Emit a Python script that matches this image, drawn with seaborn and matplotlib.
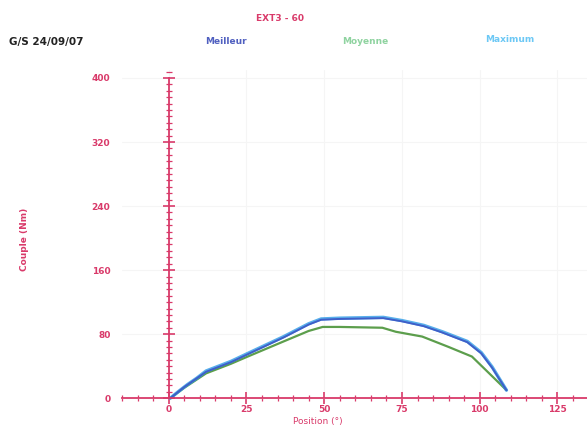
import matplotlib
matplotlib.use("Agg")
import matplotlib.pyplot as plt
import seaborn as sns
import pandas as pd
from matplotlib.ticker import MultipleLocator

# ---- data ----
pos_meilleur = [0.5, 5, 12, 20, 26, 37, 45, 49, 55, 62, 69, 75, 82, 88, 96, 100.5, 104, 108.6]
couple_meilleur = [0, 14, 33, 45, 56, 76, 92, 98, 99, 99.5, 100, 96, 90, 82, 70, 56, 38, 10]

pos_moyenne = [0.5, 5, 12, 20, 26, 37, 45, 49.5, 55, 62, 68.7, 73, 81.5, 90, 97.5, 102, 108.6]
couple_moyenne = [0, 13, 31, 43, 53, 71, 84, 89, 89, 88.5, 88, 83, 77, 64, 52, 35, 10]

pos_maximum = [0.5, 3, 6, 9, 12, 20, 26, 37, 45, 49, 55, 62, 69, 75, 82, 88, 96, 100.5, 104, 108.6]
couple_maximum = [0, 8, 17, 25, 34, 46, 57, 77, 93, 99, 100, 100.5, 101, 97, 91, 83, 71, 57, 39, 10]

y_ticks = [0, 80, 160, 240, 320, 400]
x_ticks = [0, 25, 50, 75, 100, 125]

title = "EXT3 - 60"
subtitle = "G/S 24/09/07"
x_label = "Position (°)"
y_label = "Couple (Nm)"
series_names = ["Meilleur", "Moyenne", "Maximum"]

# ---- style ----
sns.set_theme(style="white")
plt.rcParams["font.family"] = ["DejaVu Sans"]
axis_col = "#d93a6a"
col_meilleur = "#3f5fc8"
col_moyenne = "#5c9e4c"
col_maximum = "#2e9be6"

fig = plt.figure(figsize=(5.87, 4.32), dpi=100)
ax = fig.add_axes([0.208, 0.069, 0.792, 0.769])

df_max = pd.DataFrame({"Position": pos_maximum, "Couple": couple_maximum})
df_moy = pd.DataFrame({"Position": pos_moyenne, "Couple": couple_moyenne})
df_mei = pd.DataFrame({"Position": pos_meilleur, "Couple": couple_meilleur})

sns.lineplot(data=df_moy, x="Position", y="Couple", sort=False, color=col_moyenne, lw=1.6, ax=ax)
sns.lineplot(data=df_max, x="Position", y="Couple", sort=False, color=col_maximum, lw=2.4, ax=ax, alpha=0.8)
sns.lineplot(data=df_mei, x="Position", y="Couple", sort=False, color=col_meilleur, lw=1.4, ax=ax)

ax.set_xlim(-15, 134.5)
ax.set_ylim(-5, 410)

for s in ["top", "right"]:
    ax.spines[s].set_visible(False)
ax.spines["left"].set_position(("data", 0))
ax.spines["bottom"].set_position(("data", 0))
for s in ["left", "bottom"]:
    ax.spines[s].set_color(axis_col)
    ax.spines[s].set_linewidth(1.3)
ax.spines["left"].set_bounds(0, 400)

ax.set_yticks(y_ticks)
ax.set_xticks(x_ticks)
ax.yaxis.set_minor_locator(MultipleLocator(8))
ax.xaxis.set_minor_locator(MultipleLocator(5))
ax.tick_params(axis="y", which="major", direction="inout", length=8, width=1.2,
               color=axis_col, labelcolor=axis_col, labelsize=6.5, pad=38, left=True)
ax.tick_params(axis="y", which="minor", direction="inout", length=4.5, width=0.9, color=axis_col, left=True)
ax.tick_params(axis="x", which="major", direction="inout", length=8, width=1.2,
               color=axis_col, labelcolor=axis_col, labelsize=6.5, pad=1, bottom=True)
ax.tick_params(axis="x", which="minor", direction="inout", length=4.5, width=0.9, color=axis_col, bottom=True)
for lab in ax.get_yticklabels() + ax.get_xticklabels():
    lab.set_fontweight("bold")

ax.grid(True, color="#f5f5f5", lw=0.8)
ax.set_xlabel("")
ax.set_ylabel("")

fig.text(0.541, 0.024, x_label, color=axis_col, fontsize=6.5, ha="center", va="center")
fig.text(0.042, 0.445, y_label, color=axis_col, fontsize=6.5, rotation=90,
         ha="center", va="center", fontweight="bold")

fig.text(0.477, 0.958, title, color=axis_col, fontsize=6.5, ha="center", va="center", fontweight="bold")
fig.text(0.015, 0.902, subtitle, color="#222222", fontsize=7.5, ha="left", va="center", fontweight="bold")
fig.text(0.385, 0.905, series_names[0], color="#5060c0", fontsize=6.5, ha="center", va="center", fontweight="bold")
fig.text(0.622, 0.905, series_names[1], color="#8fd3a0", fontsize=6.5, ha="center", va="center", fontweight="bold")
fig.text(0.868, 0.908, series_names[2], color="#6cc8f5", fontsize=6.5, ha="center", va="center", fontweight="bold")

fig.savefig("out.png", dpi=100)
